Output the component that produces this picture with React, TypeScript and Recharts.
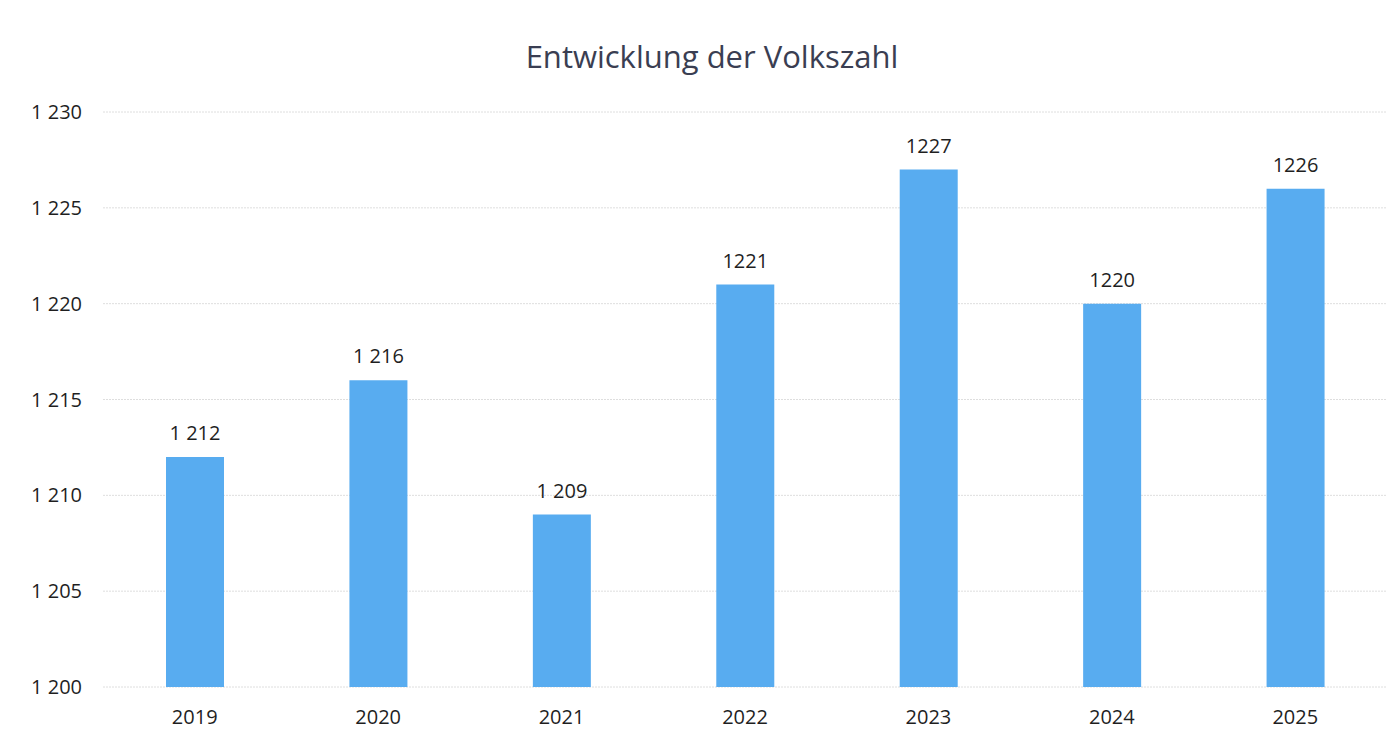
import { Bar, BarChart, CartesianGrid, LabelList, XAxis, YAxis } from 'recharts';

const years = ['2019', '2020', '2021', '2022', '2023', '2024', '2025'];
const population = [1212, 1216, 1209, 1221, 1227, 1220, 1226];
// labels as printed in the source (formatting is inconsistent there)
const valueLabels = ['1 212', '1 216', '1 209', '1221', '1227', '1220', '1226'];
const yTicks = [1200, 1205, 1210, 1215, 1220, 1225, 1230];

const data = years.map((year, i) => ({ year, value: population[i], label: valueLabels[i] }));

const FONT = '"Open Sans", "Noto Sans", sans-serif';
const TEXT = '#1f1f1f';

const formatTick = (v: number) => {
  const s = String(v);
  return s.length > 3 ? `${s.slice(0, s.length - 3)} ${s.slice(-3)}` : s;
};

function ValueLabel(props: any) {
  const { x, y, width, index } = props;
  return (
    <text
      x={x + width / 2}
      y={y - 17}
      textAnchor="middle"
      fill={TEXT}
      fontSize={20}
      fontFamily={FONT}
    >
      {valueLabels[index]}
    </text>
  );
}

export default function App() {
  return (
    <div style={{ position: 'absolute', left: 0, top: 0, width: 1392, height: 742, background: '#fff' }}>
      <div
        style={{
          position: 'absolute',
          top: 35,
          left: 0,
          width: 1424,
          textAlign: 'center',
          fontFamily: FONT,
          fontSize: 31,
          color: '#3a3e52',
        }}
      >
        Entwicklung der Volkszahl
      </div>
      <BarChart
        width={1392}
        height={742}
        data={data}
        margin={{ top: 112, right: 5, left: 23, bottom: 15 }}
        barCategoryGap={0}
      >
        <CartesianGrid vertical={false} stroke="#dedede" strokeDasharray="2 1" />
        <XAxis
          dataKey="year"
          axisLine={false}
          tickLine={false}
          tickSize={0}
          tickMargin={23}
          height={40}
          tick={{ fill: TEXT, fontSize: 20, fontFamily: FONT }}
        />
        <YAxis
          domain={[1200, 1230]}
          ticks={yTicks}
          allowDataOverflow
          axisLine={false}
          tickLine={false}
          tickSize={0}
          tickMargin={21}
          width={80}
          tickFormatter={formatTick}
          tick={{ fill: TEXT, fontSize: 20, fontFamily: FONT }}
        />
        <Bar dataKey="value" fill="#58acf0" barSize={58} isAnimationActive={false}>
          <LabelList dataKey="label" content={<ValueLabel />} />
        </Bar>
      </BarChart>
    </div>
  );
}
